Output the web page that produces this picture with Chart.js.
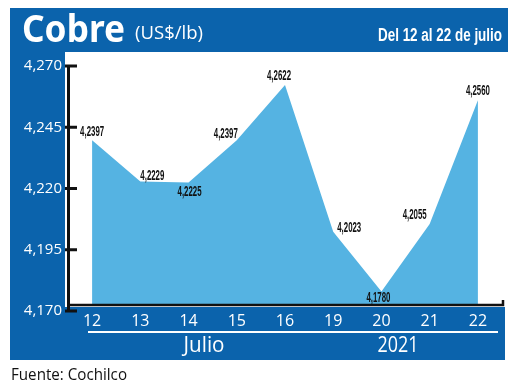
<!DOCTYPE html>
<html>
<head>
<meta charset="utf-8">
<script src="https://cdn.jsdelivr.net/npm/chart.js@4/dist/chart.umd.min.js"></script>
<style>
html,body{margin:0;padding:0;background:#fff;}
canvas{display:block;}
</style>
</head>
<body>
<canvas id="c" width="520" height="386"></canvas>
<script>
// ---- data ----
const categories = ['12','13','14','15','16','19','20','21','22'];
const prices = [4.2397, 4.2229, 4.2225, 4.2397, 4.2622, 4.2023, 4.1780, 4.2055, 4.2560];
const yTicks = [4.170, 4.195, 4.220, 4.245, 4.270];
const groupLabels = ['Julio', '2021'];
const titleText = 'Cobre';
const unitText = '(US$/lb)';
const periodText = 'Del 12 al 22 de julio';
const sourceText = 'Fuente: Cochilco';

// ---- styling / placement (not data) ----
const FRAME = '#0b63ac';
const AREA = '#55b3e2';
const labelOffsets = [[0,-8],[12,-5],[1,10],[-11,-6],[-6,-9],[16,-4],[-3,7],[-15,-9],[0,-9]];

function fitText(ctx, text, x, y, w, font, color, align, baseline) {
  ctx.save();
  ctx.font = font;
  ctx.fillStyle = color;
  ctx.textAlign = align || 'left';
  ctx.textBaseline = baseline || 'alphabetic';
  const m = ctx.measureText(text).width;
  const s = w / m;
  ctx.translate(x, y);
  ctx.scale(s, 1);
  ctx.fillText(text, 0, 0);
  ctx.restore();
}

const fmt = v => v.toFixed(4).replace('.', ',');

const framePlugin = {
  id: 'frame',
  beforeDraw(chart) {
    const ctx = chart.ctx;
    ctx.save();
    ctx.fillStyle = '#fff';
    ctx.fillRect(0, 0, chart.width, chart.height);
    ctx.fillStyle = FRAME;
    ctx.fillRect(10, 8, 498, 44);    // title bar
    ctx.fillRect(10, 52, 55, 256);   // left strip
    ctx.fillRect(10, 307, 495, 53);  // bottom strip
    // white separator line
    ctx.strokeStyle = '#fff';
    ctx.lineWidth = 2;
    ctx.beginPath();
    ctx.moveTo(88, 332); ctx.lineTo(498, 332);
    ctx.stroke();
    ctx.restore();
    // texts
    fitText(ctx, titleText, 22, 42, 103, 'bold 37px "Noto Sans"', '#fff', 'left');
    fitText(ctx, unitText, 135, 39, 68, '19px "Open Sans"', '#fff', 'left');
    fitText(ctx, periodText, 502, 41, 124, 'bold 18px "Liberation Sans"', '#fff', 'right');
    fitText(ctx, groupLabels[0], 204, 352, 41, '21px "Open Sans"', '#fff', 'center');
    fitText(ctx, groupLabels[1], 398, 352, 41, '21px "Open Sans"', '#fff', 'center');
    fitText(ctx, sourceText, 11, 380, 116, '17px "Open Sans"', '#111', 'left');
  },
  afterDraw(chart) {
    const ctx = chart.ctx;
    const y = chart.scales.y;
    const area = chart.chartArea;
    ctx.save();
    ctx.strokeStyle = '#111';
    ctx.lineWidth = 3;
    // y tick marks (inward)
    yTicks.forEach(v => {
      const py = y.getPixelForValue(v);
      ctx.beginPath();
      ctx.moveTo(area.left - 3, py);
      ctx.lineTo(area.left + 9, py);
      ctx.stroke();
    });
    // x baseline
    const by = y.getPixelForValue(4.1725);
    ctx.lineWidth = 2.5;
    ctx.beginPath();
    ctx.moveTo(area.left, by);
    ctx.lineTo(area.right + 1, by);
    ctx.lineTo(area.right + 1, by - 5);
    ctx.stroke();
    ctx.restore();
    // data labels
    const meta = chart.getDatasetMeta(0);
    meta.data.forEach((pt, i) => {
      const o = labelOffsets[i];
      fitText(ctx, fmt(prices[i]), pt.x + o[0], pt.y + o[1], 24, 'bold 14px "Liberation Sans"', '#111', 'center', 'middle');
    });
  }
};

new Chart(document.getElementById('c'), {
  type: 'line',
  data: {
    labels: categories,
    datasets: [{
      data: prices,
      backgroundColor: AREA,
      borderColor: AREA,
      borderWidth: 0,
      pointRadius: 0,
      tension: 0,
      fill: { value: 4.1725 }
    }]
  },
  options: {
    responsive: false,
    animation: false,
    events: [],
    layout: { padding: { left: 10, top: 66, right: 18, bottom: 0 } },
    plugins: { legend: { display: false }, tooltip: { enabled: false }, title: { display: false } },
    scales: {
      x: {
        type: 'category',
        offset: true,
        grid: { display: false, drawTicks: false },
        border: { display: false },
        ticks: { color: '#fff', font: { family: 'Open Sans', size: 16 }, padding: 1, maxRotation: 0, autoSkip: false },
        afterFit(s) { s.height = 75; }
      },
      y: {
        min: 4.170,
        max: 4.270,
        afterBuildTicks(s) { s.ticks = yTicks.map(v => ({ value: v })); },
        grid: { display: false, drawTicks: false },
        border: { display: true, color: '#111', width: 3 },
        ticks: {
          color: '#fff',
          font: { family: 'Open Sans', size: 15 },
          padding: 6,
          callback: v => v.toFixed(3).replace('.', ',')
        },
        afterFit(s) { s.width = 58; }
      }
    }
  },
  plugins: [framePlugin]
});
</script>
</body>
</html>
